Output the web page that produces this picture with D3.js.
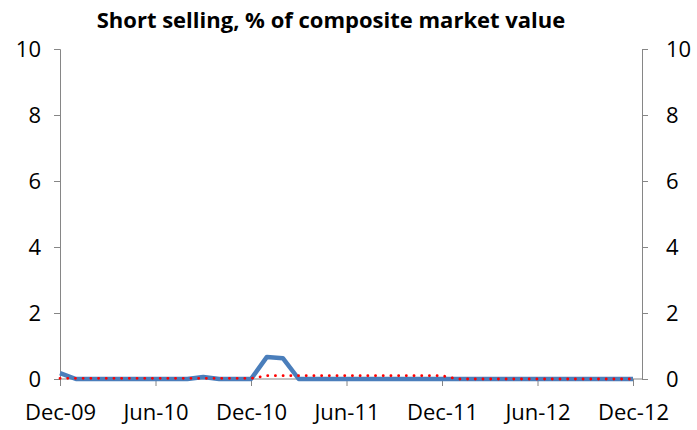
<!DOCTYPE html>
<meta charset="utf-8">
<style>
body { margin: 0; background: #fff; }
text { font-family: "Open Sans", sans-serif; }
.axis path, .axis line { stroke: #868686; }
.axis text { font-size: 22px; fill: #000; }
.title { font-size: 22px; font-weight: bold; }
</style>
<svg width="697" height="430"></svg>
<script src="https://cdn.jsdelivr.net/npm/d3@7"></script>
<script>
var months = ["Dec-09","Jan-10","Feb-10","Mar-10","Apr-10","May-10","Jun-10","Jul-10","Aug-10","Sep-10","Oct-10","Nov-10",
              "Dec-10","Jan-11","Feb-11","Mar-11","Apr-11","May-11","Jun-11","Jul-11","Aug-11","Sep-11","Oct-11","Nov-11",
              "Dec-11","Jan-12","Feb-12","Mar-12","Apr-12","May-12","Jun-12","Jul-12","Aug-12","Sep-12","Oct-12","Nov-12","Dec-12"];
var shortSelling = [0.18,0,0,0,0,0,0,0,0,0.06,0,0,
                    0,0.67,0.63,0,0,0,0,0,0,0,0,0,
                    0,0,0,0,0,0,0,0,0,0,0,0,0];
var reference = [0.02,0.02,0.02,0.02,0.02,0.02,0.02,0.02,0.02,0.02,0.02,0.02,
                 0.02,0.1,0.1,0.1,0.1,0.1,0.1,0.1,0.1,0.1,0.1,0.1,
                 0.1,0,0,0,0,0,0,0,0,0,0,0,0];
var xTicks = ["Dec-09","Jun-10","Dec-10","Jun-11","Dec-11","Jun-12","Dec-12"];
var yTicks = [0,2,4,6,8,10];

var svg = d3.select("svg"),
    plotLeft = 60, plotRight = 642, lastX = 633, plotTop = 49, plotBottom = 379;

var x = d3.scalePoint().domain(months).range([plotLeft, lastX]),
    y = d3.scaleLinear().domain([0, 10]).range([plotBottom, plotTop]);

svg.append("text")
  .attr("class", "title")
  .attr("x", 331)
  .attr("y", 28)
  .attr("text-anchor", "middle")
  .text("Short selling, % of composite market value");

svg.append("g")
  .attr("class", "axis")
  .attr("transform", "translate(" + plotLeft + ",0)")
  .call(d3.axisLeft(y).tickValues(yTicks).tickSize(6).tickSizeOuter(6).tickPadding(13))
  .selectAll("text").attr("dy", "0.36em");

svg.append("g")
  .attr("class", "axis")
  .attr("transform", "translate(" + plotRight + ",0)")
  .call(d3.axisRight(y).tickValues(yTicks).tickSize(6).tickSizeOuter(6).tickPadding(18))
  .selectAll("text").attr("dy", "0.36em");

var xAxis = svg.append("g")
  .attr("class", "axis")
  .attr("transform", "translate(0," + plotBottom + ")")
  .call(d3.axisBottom(x).tickValues(xTicks).tickSize(7).tickSizeOuter(0).tickPadding(18));
xAxis.select(".domain").attr("d", "M" + plotLeft + ",0H" + plotRight);

var line = d3.line()
  .x(function(d, i) { return x(months[i]); })
  .y(function(d) { return y(d); });

svg.append("path")
  .datum(shortSelling)
  .attr("fill", "none")
  .attr("stroke", "#4a7ebb")
  .attr("stroke-width", 4.5)
  .attr("stroke-linejoin", "round")
  .attr("d", line);

svg.append("path")
  .datum(reference)
  .attr("fill", "none")
  .attr("stroke", "#ff0000")
  .attr("stroke-width", 2.8)
  .attr("stroke-linecap", "round")
  .attr("stroke-dasharray", "0.1,7.6")
  .attr("d", line);
</script>
